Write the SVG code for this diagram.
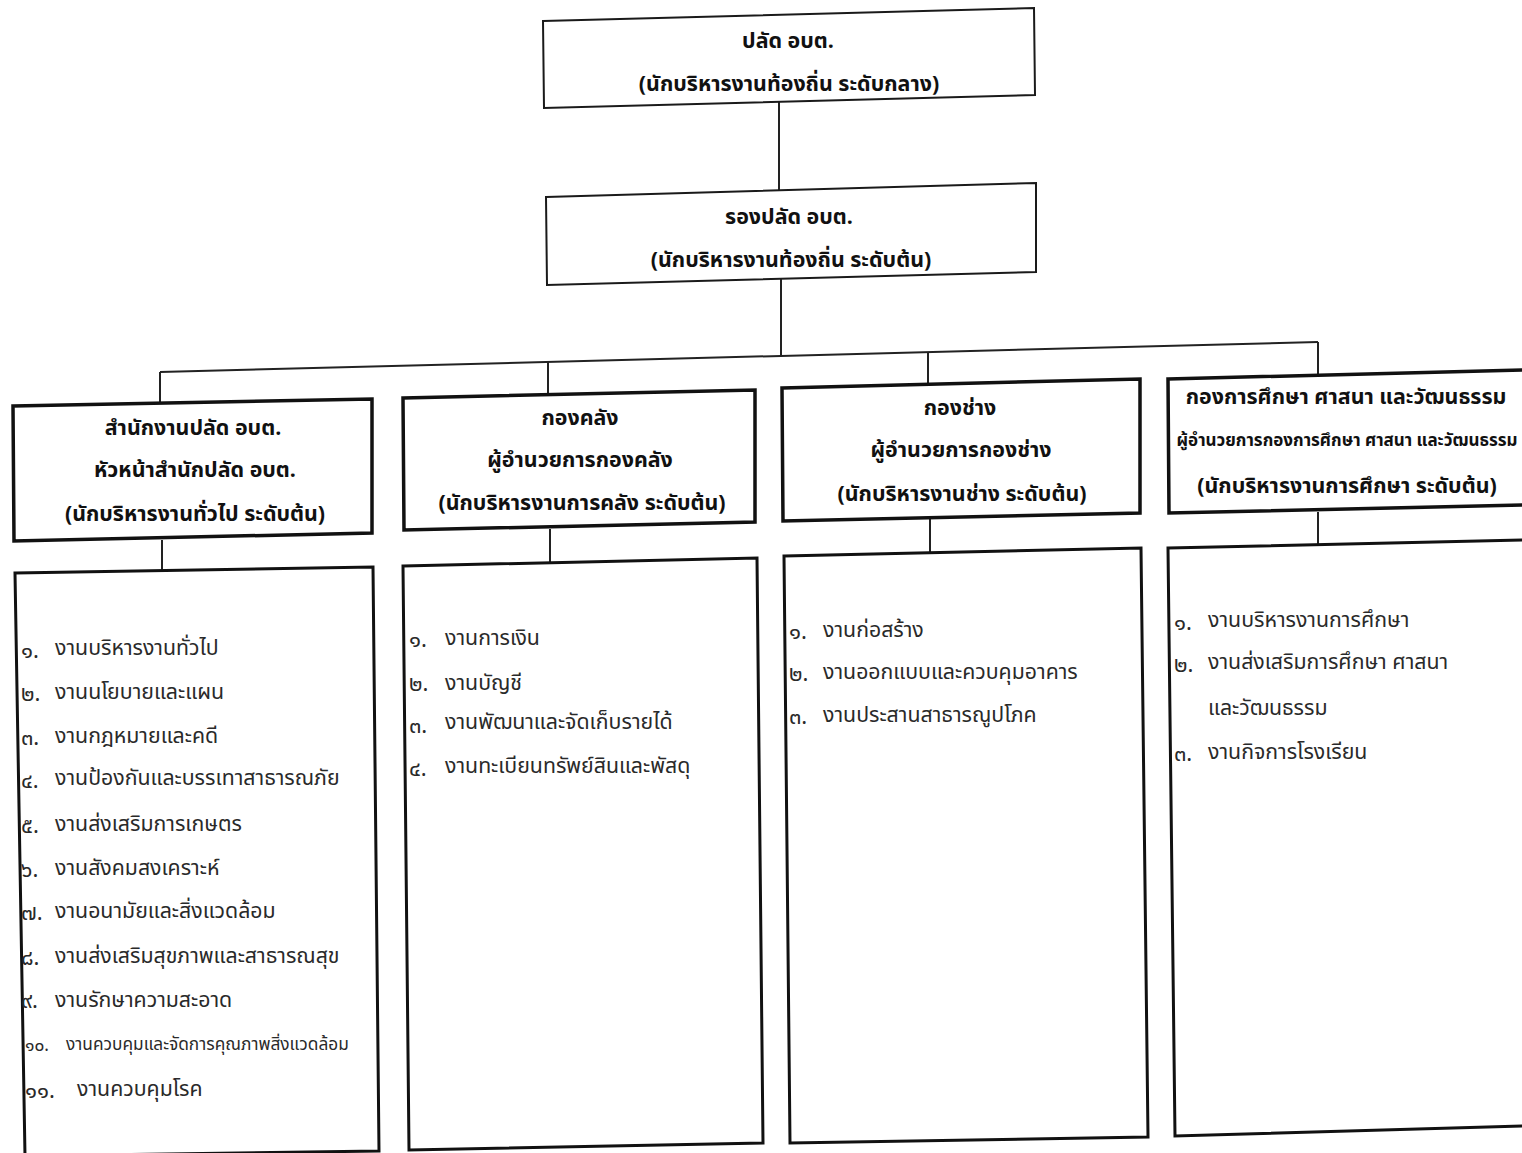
<svg xmlns="http://www.w3.org/2000/svg" width="1522" height="1153" viewBox="0 0 1522 1153">
<style>
.bg{fill:#ffffff}
.b1{fill:#ffffff;stroke:#1a1a1a;stroke-width:2}
.b2{fill:#ffffff;stroke:#111111;stroke-width:3.5}
.b3{fill:#ffffff;stroke:#111111;stroke-width:3}
.ln{stroke:#222222;stroke-width:2;fill:none}
.h{font-family:"Noto Sans Thai","Noto Sans Thai UI","Noto Sans","DejaVu Sans",sans-serif;font-size:21.4px;font-weight:bold;fill:#111111;text-anchor:middle}
.hs{font-family:"Noto Sans Thai","Noto Sans Thai UI","Noto Sans","DejaVu Sans",sans-serif;font-size:17px;font-weight:bold;fill:#111111;text-anchor:middle}
.t{font-family:"Noto Sans Thai","Noto Sans Thai UI","Noto Sans","DejaVu Sans",sans-serif;font-size:21.3px;fill:#2a2a2a}
.ts{font-family:"Noto Sans Thai","Noto Sans Thai UI","Noto Sans","DejaVu Sans",sans-serif;font-size:17.3px;fill:#2a2a2a}
.n{font-family:"Noto Sans Thai","Noto Sans Thai UI","Noto Sans","DejaVu Sans",sans-serif;font-size:22px;fill:#2a2a2a}
</style>
<rect class="bg" x="0" y="0" width="1522" height="1153"/>
<g id="connectors">
<line class="ln" x1="779" y1="102" x2="779" y2="192"/>
<line class="ln" x1="781" y1="278" x2="781" y2="356"/>
<line class="ln" x1="160" y1="372" x2="1318" y2="342"/>
<line class="ln" x1="160" y1="372" x2="160" y2="404"/>
<line class="ln" x1="548" y1="362" x2="548" y2="396"/>
<line class="ln" x1="928" y1="352" x2="928" y2="386"/>
<line class="ln" x1="1318" y1="342" x2="1318" y2="376"/>
<line class="ln" x1="162" y1="540" x2="162" y2="570"/>
<line class="ln" x1="550" y1="529" x2="550" y2="562"/>
<line class="ln" x1="930" y1="519" x2="930" y2="552"/>
<line class="ln" x1="1318" y1="512" x2="1318" y2="544"/>
</g>
<g id="n-palad">
<polygon class="b1" points="543,21 1034,8 1035,95 544,108"/>
<text class="h" x="788" y="48">ปลัด อบต.</text>
<text class="h" x="789" y="91">(นักบริหารงานท้องถิ่น ระดับกลาง)</text>
</g>
<g id="n-rongpalad">
<polygon class="b1" points="546,197 1036,183 1036,272 547,285"/>
<text class="h" x="789" y="224">รองปลัด อบต.</text>
<text class="h" x="791" y="267">(นักบริหารงานท้องถิ่น ระดับต้น)</text>
</g>
<g id="n-office">
<polygon class="b2" points="13,406 372,399 372,533 14,541"/>
<text class="h" x="193" y="435">สำนักงานปลัด อบต.</text>
<text class="h" x="195" y="477">หัวหน้าสำนักปลัด อบต.</text>
<text class="h" x="195" y="521">(นักบริหารงานทั่วไป ระดับต้น)</text>
</g>
<g id="n-finance">
<polygon class="b2" points="403,398 755,390 755,522 404,530"/>
<text class="h" x="580" y="425">กองคลัง</text>
<text class="h" x="580" y="467">ผู้อำนวยการกองคลัง</text>
<text class="h" x="582" y="510">(นักบริหารงานการคลัง ระดับต้น)</text>
</g>
<g id="n-engineer">
<polygon class="b2" points="782,388 1140,379 1140,513 783,521"/>
<text class="h" x="960" y="415">กองช่าง</text>
<text class="h" x="961" y="457">ผู้อำนวยการกองช่าง</text>
<text class="h" x="962" y="501">(นักบริหารงานช่าง ระดับต้น)</text>
</g>
<g id="n-education">
<polygon class="b2" points="1168,379 1524,370 1524,505 1169,513"/>
<text class="h" x="1346" y="404">กองการศึกษา ศาสนา และวัฒนธรรม</text>
<text class="hs" x="1347" y="446">ผู้อำนวยการกองการศึกษา ศาสนา และวัฒนธรรม</text>
<text class="h" x="1347" y="493">(นักบริหารงานการศึกษา ระดับต้น)</text>
</g>
<g id="n-office-tasks">
<polygon class="b3" points="15,573 373,567 379,1151 25,1156"/>
<text class="n" x="21" y="658">๑.</text><text class="t" x="55" y="655">งานบริหารงานทั่วไป</text>
<text class="n" x="21" y="701">๒.</text><text class="t" x="55" y="699">งานนโยบายและแผน</text>
<text class="n" x="21" y="745">๓.</text><text class="t" x="55" y="743">งานกฎหมายและคดี</text>
<text class="n" x="21" y="788">๔.</text><text class="t" x="55" y="785">งานป้องกันและบรรเทาสาธารณภัย</text>
<text class="n" x="21" y="833">๕.</text><text class="t" x="55" y="831">งานส่งเสริมการเกษตร</text>
<text class="n" x="21" y="877">๖.</text><text class="t" x="55" y="875">งานสังคมสงเคราะห์</text>
<text class="n" x="21" y="920">๗.</text><text class="t" x="55" y="918">งานอนามัยและสิ่งแวดล้อม</text>
<text class="n" x="21" y="965">๘.</text><text class="t" x="55" y="963">งานส่งเสริมสุขภาพและสาธารณสุข</text>
<text class="n" x="21" y="1008">๙.</text><text class="t" x="55" y="1007">งานรักษาความสะอาด</text>
<text class="ts" x="25" y="1051">๑๐.</text><text class="ts" x="66" y="1050">งานควบคุมและจัดการคุณภาพสิ่งแวดล้อม</text>
<text class="n" x="25" y="1098">๑๑.</text><text class="t" x="77" y="1096">งานควบคุมโรค</text>
</g>
<g id="n-finance-tasks">
<polygon class="b3" points="403,566 757,558 763,1143 409,1150"/>
<text class="n" x="409" y="647">๑.</text><text class="t" x="445" y="645">งานการเงิน</text>
<text class="n" x="409" y="691">๒.</text><text class="t" x="445" y="690">งานบัญชี</text>
<text class="n" x="409" y="733">๓.</text><text class="t" x="445" y="729">งานพัฒนาและจัดเก็บรายได้</text>
<text class="n" x="409" y="776">๔.</text><text class="t" x="445" y="773">งานทะเบียนทรัพย์สินและพัสดุ</text>
</g>
<g id="n-engineer-tasks">
<polygon class="b3" points="784,556 1141,548 1148,1137 790,1143"/>
<text class="n" x="789" y="639">๑.</text><text class="t" x="823" y="637">งานก่อสร้าง</text>
<text class="n" x="789" y="681">๒.</text><text class="t" x="823" y="679">งานออกแบบและควบคุมอาคาร</text>
<text class="n" x="789" y="724">๓.</text><text class="t" x="823" y="722">งานประสานสาธารณูปโภค</text>
</g>
<g id="n-education-tasks">
<polygon class="b3" points="1168,548 1524,540 1524,1126 1175,1136"/>
<text class="n" x="1174" y="630">๑.</text><text class="t" x="1208" y="627">งานบริหารงานการศึกษา</text>
<text class="n" x="1174" y="672">๒.</text><text class="t" x="1208" y="669">งานส่งเสริมการศึกษา ศาสนา</text>
<text class="t" x="1208" y="715">และวัฒนธรรม</text>
<text class="n" x="1174" y="761">๓.</text><text class="t" x="1208" y="759">งานกิจการโรงเรียน</text>
</g>
</svg>
